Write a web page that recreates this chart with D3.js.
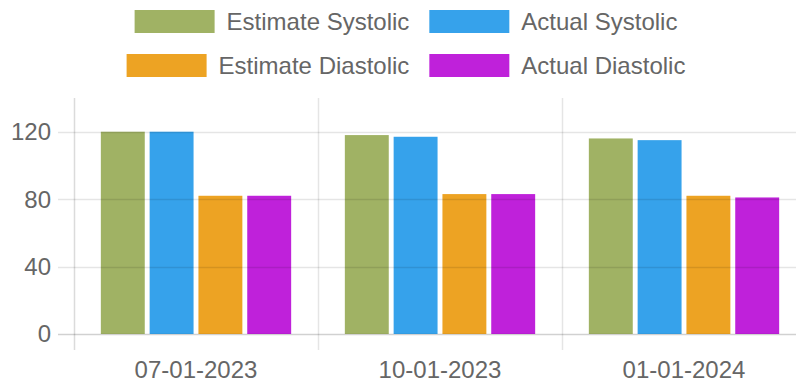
<!DOCTYPE html>
<html>
<head>
<meta charset="utf-8">
<script src="https://cdn.jsdelivr.net/npm/d3@7"></script>
<style>
  html, body { margin: 0; padding: 0; background: #fff; }
  svg { display: block; font-family: "Liberation Sans", Arial, sans-serif; }
</style>
</head>
<body>
<svg id="chart" width="796" height="385"></svg>
<script>
// Blood pressure readings per visit date
const dates = ["07-01-2023", "10-01-2023", "01-01-2024"];
const seriesNames = ["Estimate Systolic", "Actual Systolic", "Estimate Diastolic", "Actual Diastolic"];
const estimateSystolic = [120, 118, 116];
const actualSystolic = [120, 117, 115];
const estimateDiastolic = [82, 83, 82];
const actualDiastolic = [82, 83, 81];
const yTicks = [0, 40, 80, 120];
const seriesColors = ["#a0b264", "#36a2eb", "#eda323", "#bf21da"];

const seriesValues = [estimateSystolic, actualSystolic, estimateDiastolic, actualDiastolic];

const W = 796, H = 385;
const plot = { left: 74, right: 806, top: 98, bottom: 334 };
const tickLen = 16;
const fontSize = 24;
const textColor = "#666";
const gridColor = "rgba(0,0,0,0.1)";

const svg = d3.select("#chart");

const y = d3.scaleLinear().domain([0, 140]).range([plot.bottom, plot.top]);
const x = d3.scaleBand().domain(dates).range([plot.left, plot.right]).padding(0);
const bw = x.bandwidth();
const xs = d3.scaleBand().domain(seriesNames)
  .range([bw * 0.1, bw * 0.9]).paddingInner(0.1).paddingOuter(0.05);

// Bars
const groups = svg.append("g").selectAll("g")
  .data(dates).join("g")
  .attr("transform", d => `translate(${x(d)},0)`);

groups.selectAll("rect")
  .data((d, i) => seriesNames.map((s, k) => ({ s, k, v: seriesValues[k][i] })))
  .join("rect")
  .attr("x", d => xs(d.s))
  .attr("width", xs.bandwidth())
  .attr("y", d => y(d.v))
  .attr("height", d => y(0) - y(d.v))
  .attr("fill", d => seriesColors[d.k]);

// Horizontal grid lines with tick marks on the left
const gridG = svg.append("g");
gridG.selectAll("line.h")
  .data(yTicks).join("line")
  .attr("class", "h")
  .attr("x1", plot.left - tickLen).attr("x2", plot.right)
  .attr("y1", d => Math.round(y(d)) + 0.5).attr("y2", d => Math.round(y(d)) + 0.5)
  .attr("stroke", d => d === 0 ? "rgba(0,0,0,0.18)" : gridColor)
  .attr("stroke-width", 1.5);

// Vertical grid lines at category boundaries (including left axis)
const boundaries = dates.map(d => x(d)).concat([plot.right]);
gridG.selectAll("line.v")
  .data(boundaries).join("line")
  .attr("class", "v")
  .attr("x1", d => Math.round(d) + 0.5).attr("x2", d => Math.round(d) + 0.5)
  .attr("y1", plot.top).attr("y2", plot.bottom + tickLen)
  .attr("stroke", (d, i) => i === 0 ? "rgba(0,0,0,0.14)" : gridColor)
  .attr("stroke-width", 1.5);

// Y tick labels
svg.append("g").selectAll("text")
  .data(yTicks).join("text")
  .attr("x", plot.left - tickLen - 7)
  .attr("y", d => y(d))
  .attr("dy", "0.35em")
  .attr("text-anchor", "end")
  .attr("font-size", fontSize)
  .attr("fill", textColor)
  .text(d => d);

// X tick labels
svg.append("g").selectAll("text")
  .data(dates).join("text")
  .attr("x", d => x(d) + bw / 2)
  .attr("y", 378)
  .attr("text-anchor", "middle")
  .attr("font-size", fontSize)
  .attr("fill", textColor)
  .text(d => d);

// Legend: two rows of two items, centred over the full chart width
const boxW = 80, boxH = 23, itemPad = 20, legendCenter = 416;
const rows = [[0, 1], [2, 3]];
const rowY = [10, 54];
const legend = svg.append("g");
rows.forEach((row, r) => {
  const items = row.map(k => {
    const g = legend.append("g");
    g.append("rect")
      .attr("width", boxW).attr("height", boxH)
      .attr("fill", seriesColors[k]);
    const t = g.append("text")
      .attr("x", boxW + fontSize / 2)
      .attr("y", boxH / 2)
      .attr("dy", "0.35em")
      .attr("font-size", fontSize)
      .attr("fill", textColor)
      .text(seriesNames[k]);
    const w = boxW + fontSize / 2 + t.node().getComputedTextLength() + itemPad;
    return { g, w };
  });
  const total = d3.sum(items, d => d.w);
  let cx = legendCenter - total / 2;
  items.forEach(it => {
    it.g.attr("transform", `translate(${cx},${rowY[r]})`);
    cx += it.w;
  });
});
</script>
</body>
</html>
